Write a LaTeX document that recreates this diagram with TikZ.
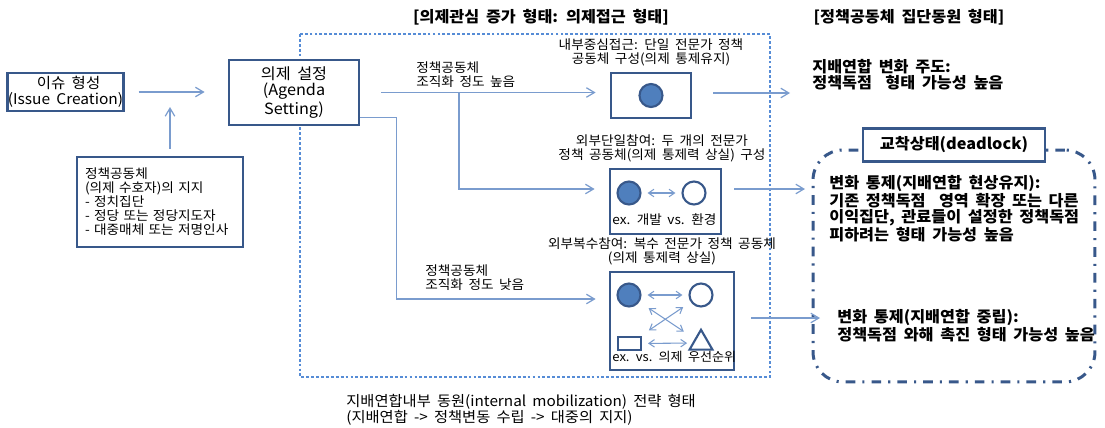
\documentclass[tikz,border=0pt]{standalone}
\usepackage{fontspec}
\setmainfont{Noto Sans CJK KR}[WordSpace=1.8,FakeStretch=1.05]
\usetikzlibrary{arrows.meta,positioning,shapes.geometric}
\definecolor{boxblue}{RGB}{56,88,138}
\definecolor{flowblue}{RGB}{122,156,206}
\definecolor{frameblue}{RGB}{86,140,214}
\definecolor{peerblue}{RGB}{79,127,189}
\tikzset{
  stagebox/.style={draw=boxblue,line width=1.6pt,fill=white,align=center,inner sep=0pt},
  flow/.style={flowblue,line width=0.7pt,-{Straight Barb[length=1.6mm,width=1.9mm]}},
  pair/.style={flowblue,line width=0.6pt,{Straight Barb[length=1.1mm,width=1.5mm]}-{Straight Barb[length=1.1mm,width=1.5mm]}},
  peer/.style={circle,draw=boxblue,line width=1.2pt,minimum size=0.46cm,inner sep=0pt},
  smalltext/.style={font=\fontsize{7.4}{8}\selectfont,inner sep=0pt},
  bigtext/.style={font=\fontsize{8.8}{9.2}\selectfont,inner sep=0pt},
  boldtext/.style={font=\fontsize{8.8}{9}\selectfont\bfseries,inner sep=0pt}
}

\begin{document}
\begin{tikzpicture}[x=0.02cm,y=-0.02cm]
  \useasboundingbox (0,0) rectangle (1105,427);
  \draw[frameblue,line width=0.6pt,dash pattern=on 1.6pt off 1.2pt] (300,34) rectangle (770,377);
  \node[boldtext] (headleft) at (541,17) {[의제관심 증가 형태: 의제접근 형태]};
  \node[boldtext] (headright) at (909,17) {[정책공동체 집단동원 형태]};

  \node[stagebox,bigtext,font=\fontsize{8.4}{9.2}\selectfont,minimum width=2.18cm,minimum height=0.76cm] (issue) at (65.5,92) {\ 이슈 형성\\(Issue Creation)};
  \node[stagebox,bigtext,minimum width=2.6cm,minimum height=1.3cm] (agenda) at (294,92.5) {의제 설정\\(Agenda\\Setting)};
  \node[stagebox,smalltext,minimum width=3.32cm,minimum height=1.8cm,text width=3.0cm,align=left] (support) at (160,202) {정책공동체\\(의제 수호자)의 지지\\- 정치집단\\- 정당 또는 정당지도자\\- 대중매체 또는 저명인사};
  \draw[flow,shorten <=0.28cm,shorten >=0.46cm] (issue.east) -- (issue.east -| agenda.west);
  \coordinate (lift) at (170,107);
  \draw[flow,shorten <=0.14cm] (support.north -| lift) -- (lift);

  \node[stagebox,minimum width=1.6cm,minimum height=0.9cm] (single) at (651,95.5) {};
  \node[peer,fill=peerblue] (s1) at (single) {};
  \node[smalltext,align=center,above=0.1cm of single] (singlenote) {내부중심접근: 단일 전문가 정책\\공동체 구성(의제 통제유지)};

  \node[stagebox,minimum width=2.22cm,minimum height=1.3cm] (dual) at (665.5,201.5) {};
  \node[peer,fill=peerblue] (d1) at (629,193) {};
  \node[peer,fill=white] (d2) at (694,193) {};
  \draw[pair,shorten <=0.12cm,shorten >=0.12cm] (d1) -- (d2);
  \node[smalltext,anchor=west] (dualcase) at (612,220) {ex. 개발 vs. 환경};
  \node[smalltext,align=center,above=0.1cm of dual,xshift=-0.07cm] (dualnote) {외부단일참여: 두 개의 전문가\\정책 공동체(의제 통제력 상실) 구성};

  \node[stagebox,minimum width=2.48cm,minimum height=1.96cm] (multi) at (672,321) {};
  \node[peer,fill=peerblue] (m1) at (629,295) {};
  \node[peer,fill=white] (m2) at (701,295) {};
  \node[draw=boxblue,line width=1.2pt,minimum width=0.46cm,minimum height=0.26cm,inner sep=0pt] (m3) at (629.5,343.5) {};
  \node[draw=boxblue,line width=1.2pt,regular polygon,regular polygon sides=3,minimum size=0.53cm,inner sep=0pt] (m4) at (701,343) {};
  \draw[pair,shorten <=0.12cm,shorten >=0.12cm] (m1) -- (m2);
  \draw[pair,shorten <=0.12cm,shorten >=0.1cm] (m3) -- (m4);
  \draw[pair,shorten <=0.22cm,shorten >=0.26cm] (m1) -- (m4);
  \draw[pair,shorten <=0.2cm,shorten >=0.18cm] (m3) -- (m2);
  \node[smalltext,font=\fontsize{7.1}{8}\selectfont,anchor=west] (multicase) at (612,357) {ex. vs. 의제 우선순위};
  \node[smalltext,align=center,above=0.1cm of multi,xshift=-0.2cm] (multinote) {외부복수참여: 복수 전문가 정책 공동체\\(의제 통제력 상실)};

  \draw[flow,shorten <=0.42cm,shorten >=0.28cm] (agenda.east) -- (agenda.east -| single.west);
  \coordinate (fork) at (459,92.5);
  \draw[flow,shorten >=0.28cm] (fork) |- ([yshift=0.25cm]dual.west);
  \draw[flow,shorten >=0.26cm] ([yshift=-0.5cm]agenda.east) -- ++(0.72cm,0) |- ([yshift=0.44cm]multi.west);
  \node[smalltext,align=left,anchor=west] (highnote) at (416,75) {정책공동체\\조직화 정도 높음};
  \node[smalltext,align=left,anchor=west] (lownote) at (425,278) {정책공동체\\조직화 정도 낮음};

  \node[boldtext,align=left,anchor=west] (leadnote) at (812,75) {지배연합 변화 주도:\\정책독점\ \ 형태 가능성 높음};
  \node[draw=boxblue,line width=1.7pt,dash pattern=on 5.5pt off 4pt on 1.2pt off 4pt,rounded corners=0.6cm,minimum width=5.64cm,minimum height=4.64cm] (deadzone) at (954,266) {};
  \node[stagebox,boldtext,minimum width=3.64cm,minimum height=0.66cm] (deadlock) at ([yshift=0.07cm]deadzone.north) {교착상태(deadlock)};
  \node[boldtext,align=left,anchor=north west] (keepnote) at (829,175) {변화 통제(지배연합 현상유지):\\기존 정책독점\ \ 영역 확장 또는 다른\\이익집단, 관료들이 설정한 정책독점\\피하려는 형태 가능성 높음};
  \node[boldtext,align=left,anchor=west] (neutralnote) at (837,326) {변화 통제(지배연합 중립):\\정책독점 와해 촉진 형태 가능성 높음};
  \coordinate (leadend) at (790,93);
  \coordinate (keepend) at (805,189);
  \coordinate (neutralend) at (820,318);
  \foreach \src/\tip/\gap in {single/leadend/0.42cm,dual/keepend/0.24cm,multi/neutralend/0.32cm}
    \draw[flow,shorten <=\gap] (\src.east |- \tip) -- (\tip);

  \node[font=\fontsize{8.3}{9.1}\selectfont,inner sep=0pt,align=left,anchor=west] (mobilize) at (346,410) {지배연합내부 동원(internal mobilization) 전략 형태\\(지배연합 -> 정책변동 수립 -> 대중의 지지)};
\end{tikzpicture}
\end{document}
